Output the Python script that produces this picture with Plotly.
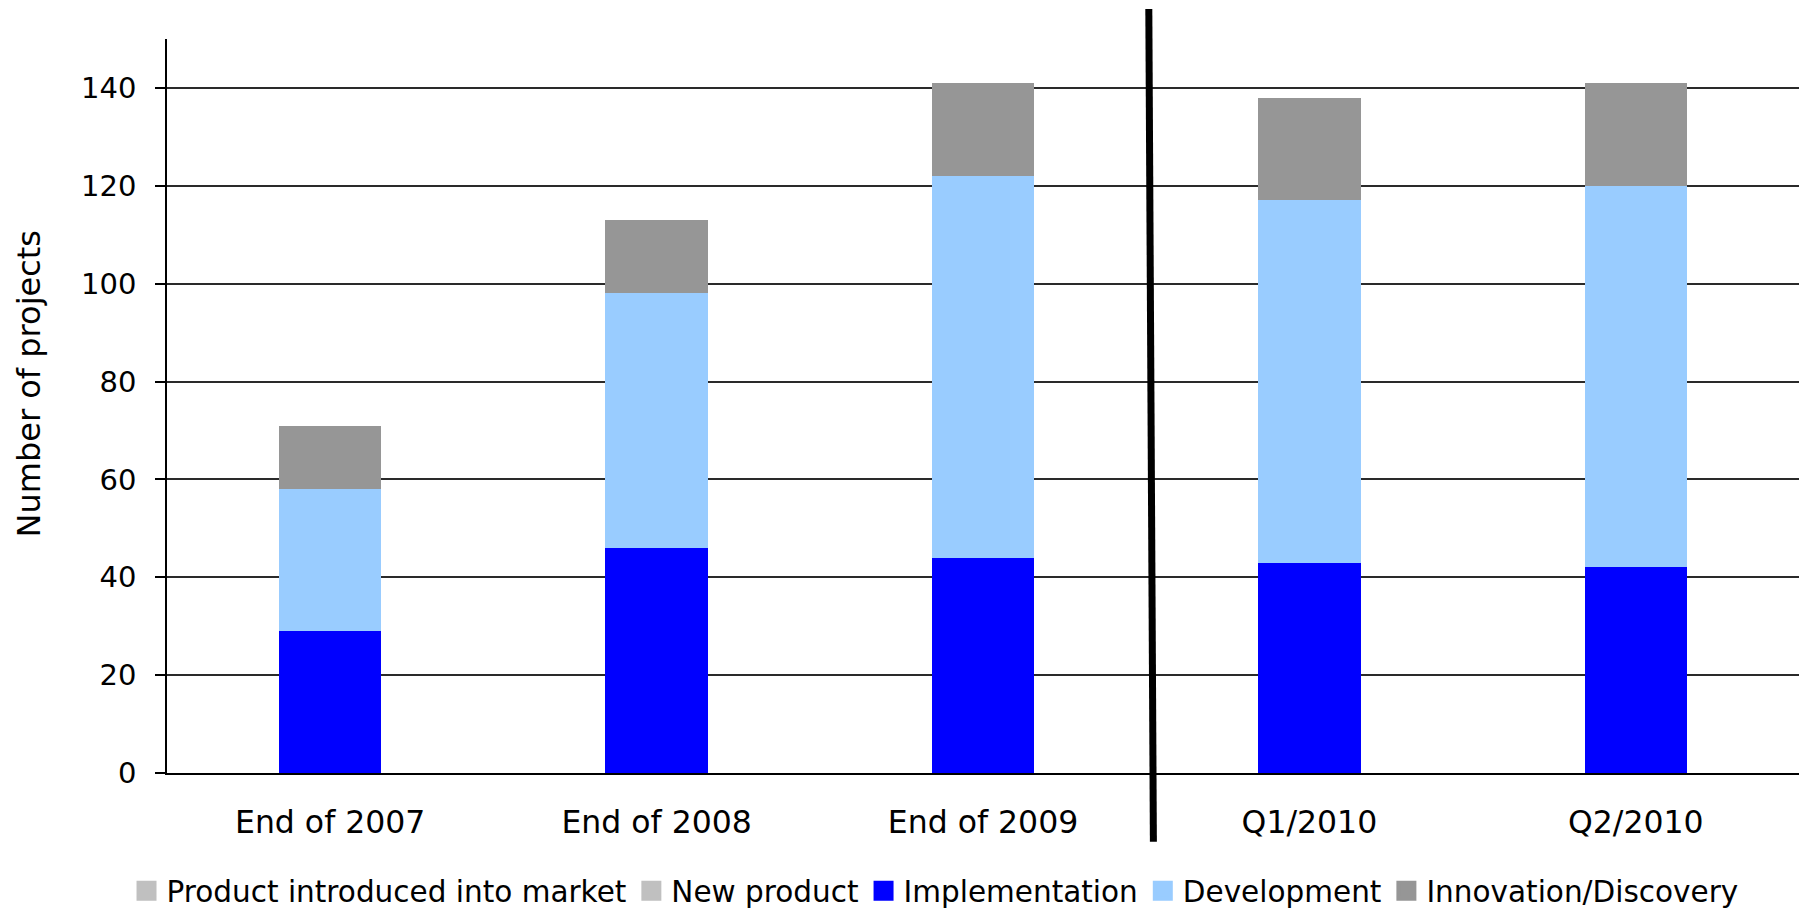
import plotly.graph_objects as go

categories = ["End of 2007", "End of 2008", "End of 2009", "Q1/2010", "Q2/2010"]
product_market = [0, 0, 0, 0, 0]
new_product = [0, 0, 0, 0, 0]
implementation = [29, 46, 44, 43, 42]
development = [29, 52, 78, 74, 78]
innovation = [13, 15, 19, 21, 21]
y_ticks = [0, 20, 40, 60, 80, 100, 120, 140]

series = [
    ("Product introduced into market", product_market, "#C0C0C0"),
    ("New product", new_product, "#C0C0C0"),
    ("Implementation", implementation, "#0000FF"),
    ("Development", development, "#99CCFF"),
    ("Innovation/Discovery", innovation, "#969696"),
]

FONT = "DejaVu Sans"
fig = go.Figure()

# stacked bars (bottom to top)
for name, vals, col in series:
    fig.add_trace(go.Bar(
        x=categories, y=vals, name=name, marker=dict(color=col, line=dict(width=0)),
        showlegend=False, legendgroup=name,
    ))

# legend entries (larger square swatches)
for name, vals, col in series:
    fig.add_trace(go.Scatter(
        x=[None], y=[None], mode="markers", name=name, legendgroup=name,
        marker=dict(symbol="square", size=16, color=col, line=dict(color=col, width=4)),
        showlegend=True,
    ))

fig.update_layout(
    width=1801, height=911,
    margin=dict(l=167, r=2, t=39, b=138, autoexpand=False),
    barmode="stack", bargap=0.686,
    plot_bgcolor="white", paper_bgcolor="white",
    font=dict(family=FONT, color="black"),
    legend=dict(
        orientation="h", x=0.4706, xanchor="center", y=-0.161, yanchor="middle",
        font=dict(family=FONT, size=29.5, color="black"), traceorder="normal",
        bgcolor="rgba(0,0,0,0)",
    ),
    xaxis=dict(
        type="category", categoryorder="array", categoryarray=categories,
        showline=True, linecolor="black", linewidth=1.5, ticks="",
        tickfont=dict(family=FONT, size=31.5, color="black"),
        ticklabelstandoff=20, showgrid=False, zeroline=False,
    ),
    yaxis=dict(
        range=[0, 150], tickvals=y_ticks, showline=True, linecolor="black", linewidth=1.5,
        ticks="outside", ticklen=10, tickwidth=1.5, tickcolor="black",
        tickfont=dict(family=FONT, size=29, color="black"), ticklabelstandoff=13,
        showgrid=True, gridcolor="#2a2a2a", gridwidth=1.5, zeroline=False,
    ),
    annotations=[dict(
        text="Number of projects", textangle=-90, xref="paper", yref="paper",
        x=-0.0845, y=0.5295, xanchor="center", yanchor="middle", showarrow=False,
        font=dict(family=FONT, size=32, color="black"),
    )],
    shapes=[dict(
        type="line", xref="x", yref="paper", x0=2.508, x1=2.522, y0=1.0409, y1=-0.0936,
        line=dict(color="black", width=7), layer="above",
    )],
)

fig.write_html("out.html")
